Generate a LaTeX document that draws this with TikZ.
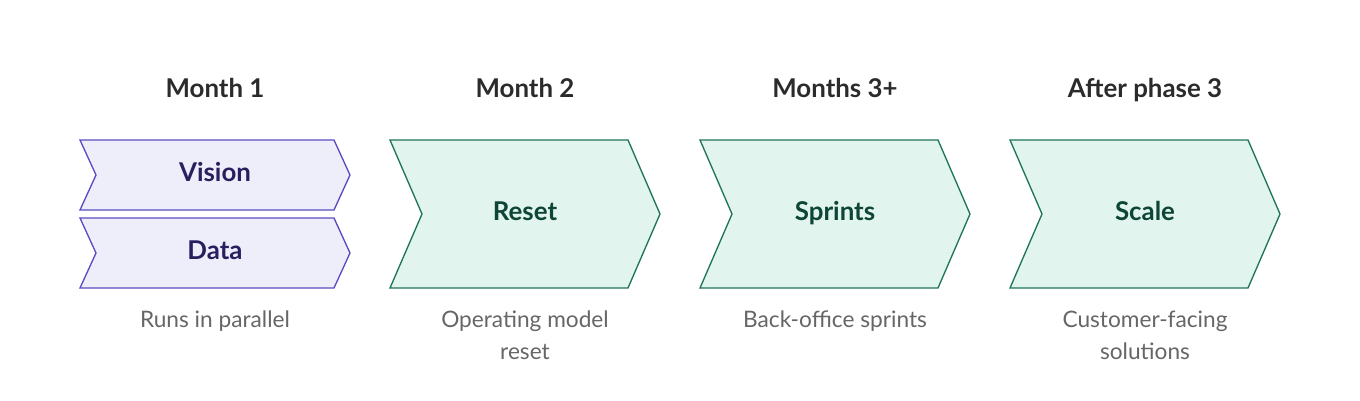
\documentclass[tikz,border=0pt]{standalone}
\usepackage{fontspec}
\setmainfont{Lato}
\definecolor{purpleline}{HTML}{5A4CC0}
\definecolor{purplefill}{HTML}{EEEEFB}
\definecolor{purpletext}{HTML}{2A1F5E}
\definecolor{greenline}{HTML}{1E7558}
\definecolor{greenfill}{HTML}{E1F4ED}
\definecolor{greentext}{HTML}{0D4536}
\definecolor{headtext}{HTML}{2B2B2B}
\definecolor{notetext}{HTML}{666666}
\tikzset{
  head/.style={font=\fontsize{19.4}{23}\selectfont\bfseries,text=headtext,text height=14pt,text depth=4pt},
  note/.style={font=\fontsize{17}{24}\selectfont,text=notetext,align=center},
  vchev/.style={draw=purpleline,fill=purplefill,line width=1pt},
  gchev/.style={draw=greenline,fill=greenfill,line width=1pt},
  vlabel/.style={font=\fontsize{19.4}{23}\selectfont\bfseries,text=purpletext,text height=14pt,text depth=4pt},
  glabel/.style={font=\fontsize{19.4}{23}\selectfont\bfseries,text=greentext,text height=14pt,text depth=4pt}
}
\begin{document}
\begin{tikzpicture}[x=0.75pt,y=-0.75pt]
  \useasboundingbox (0,0) rectangle (1360,400);
  % month 1: two stacked chevrons
  \draw[vchev] (80,140) -- (334,140) -- (350,175) -- (334,210) -- (80,210) -- (96,175) -- cycle;
  \draw[vchev] (80,218) -- (334,218) -- (350,253) -- (334,288) -- (80,288) -- (96,253) -- cycle;
  \node[vlabel](V) at(215,175){Vision};
  \node[vlabel](D) at(215,253){Data};
  % big chevrons
  \foreach \x in {390, 700, 1010}{
    \draw[gchev] (\x,140) -- (\x+238,140) -- (\x+270,214) -- (\x+238,288) -- (\x,288) -- (\x+32,214) -- cycle;
  }
  \node[glabel](R) at(525,214){Reset};
  \node[glabel](S) at(835,214){Sprints};
  \node[glabel](C) at(1145,214){Scale};
  % headings
  \node[head](H1) at(215,91){Month 1};
  \node[head](H2) at(525,91){Month 2};
  \node[head](H3) at(835,91){Months 3+};
  \node[head](H4) at(1145,91){After phase 3};
  % notes
  \node[note,anchor=north](N1) at(215,306){Runs in parallel};
  \node[note,anchor=north](N2) at(525,306){Operating model\\reset};
  \node[note,anchor=north](N3) at(835,306){Back-office sprints};
  \node[note,anchor=north](N4) at(1145,306){Customer-facing\\solutions};
\end{tikzpicture}
\end{document}
